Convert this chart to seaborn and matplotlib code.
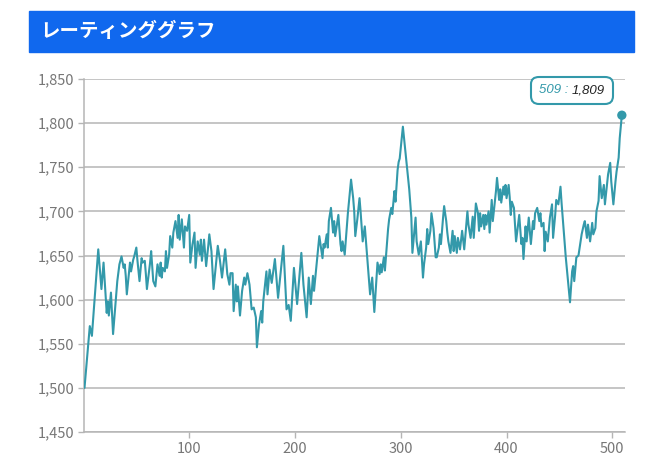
import matplotlib
matplotlib.use("Agg")
import matplotlib.pyplot as plt
import seaborn as sns
from matplotlib.patches import Rectangle
from matplotlib.ticker import FuncFormatter
from matplotlib.offsetbox import AnnotationBbox, HPacker, TextArea

# rating after each game (vertices)
games = [
    1, 6, 8, 14, 17, 19, 22, 23, 24, 26, 28, 32, 34, 36, 38, 39, 40, 41, 44, 45,
    47, 48, 50, 51, 53, 55, 56, 58, 59, 60, 63, 64, 65, 66, 68, 70, 72, 73, 74, 75,
    77, 78, 79, 81, 82, 84, 85, 87, 89, 90, 91, 93, 95, 96, 98, 100, 101, 103, 105, 106,
    108, 110, 111, 112, 114, 116, 118, 119, 121, 123, 125, 127, 129, 131, 134, 136, 138, 139, 141, 142,
    144, 145, 146, 148, 150, 152, 153, 155, 157, 159, 161, 163, 164, 166, 168, 169, 170, 173, 174, 176,
    178, 181, 184, 189, 192, 194, 196, 199, 202, 206, 208, 211, 213, 215, 217, 218, 221, 223, 226, 227,
    228, 230, 231, 232, 234, 236, 237, 238, 241, 243, 244, 245, 247, 250, 253, 255, 256, 257, 259, 261,
    262, 263, 264, 266, 271, 273, 275, 278, 280, 281, 282, 284, 285, 288, 289, 291, 292, 294, 295, 297,
    298, 299, 302, 305, 308, 310, 311, 314, 315, 317, 319, 321, 322, 324, 325, 326, 328, 329, 331, 333,
    334, 336, 337, 338, 340, 341, 343, 344, 345, 347, 349, 350, 351, 353, 354, 356, 358, 360, 363, 364,
    366, 368, 369, 371, 373, 374, 375, 376, 378, 379, 380, 381, 383, 384, 386, 387, 388, 390, 391, 393,
    394, 395, 397, 398, 399, 400, 402, 403, 404, 405, 407, 409, 412, 414, 415, 416, 418, 419, 421, 423,
    425, 426, 427, 429, 431, 432, 433, 435, 436, 437, 439, 441, 443, 444, 446, 447, 449, 451, 452, 456,
    460, 462, 463, 464, 466, 468, 470, 471, 473, 474, 476, 477, 479, 481, 482, 484, 485, 487, 488, 490,
    492, 493, 495, 496, 498, 499, 501, 503, 504, 506, 507, 509,
]
rating = [
    1500, 1570, 1559, 1657, 1612, 1642, 1585, 1598, 1582, 1608, 1561, 1621, 1640, 1649, 1636, 1640, 1627, 1606, 1642, 1632,
    1645, 1649, 1659, 1645, 1621, 1647, 1642, 1644, 1629, 1612, 1642, 1655, 1638, 1621, 1615, 1640, 1627, 1642, 1625, 1636,
    1632, 1655, 1636, 1651, 1672, 1659, 1676, 1689, 1670, 1696, 1668, 1691, 1659, 1683, 1678, 1696, 1642, 1662, 1676, 1636,
    1666, 1651, 1668, 1644, 1668, 1638, 1661, 1674, 1655, 1612, 1636, 1661, 1645, 1625, 1657, 1629, 1617, 1630, 1630, 1587,
    1617, 1598, 1615, 1582, 1610, 1625, 1617, 1630, 1617, 1589, 1591, 1580, 1546, 1572, 1587, 1574, 1598, 1632, 1606, 1634,
    1619, 1646, 1602, 1661, 1589, 1594, 1576, 1636, 1595, 1653, 1617, 1580, 1625, 1595, 1627, 1610, 1647, 1672, 1647, 1663,
    1659, 1674, 1659, 1689, 1704, 1676, 1689, 1672, 1696, 1663, 1655, 1666, 1651, 1698, 1736, 1715, 1700, 1672, 1692, 1715,
    1700, 1683, 1666, 1683, 1606, 1625, 1586, 1642, 1629, 1640, 1631, 1648, 1633, 1680, 1691, 1704, 1697, 1723, 1711, 1747,
    1756, 1760, 1796, 1760, 1725, 1693, 1653, 1693, 1666, 1651, 1666, 1625, 1640, 1659, 1680, 1663, 1678, 1698, 1681, 1648,
    1648, 1659, 1674, 1663, 1693, 1706, 1689, 1676, 1666, 1653, 1678, 1655, 1672, 1653, 1670, 1657, 1678, 1657, 1700, 1685,
    1670, 1694, 1670, 1709, 1698, 1678, 1698, 1683, 1696, 1680, 1696, 1685, 1700, 1676, 1713, 1689, 1700, 1723, 1738, 1713,
    1725, 1710, 1728, 1719, 1730, 1715, 1730, 1716, 1696, 1711, 1704, 1666, 1696, 1663, 1670, 1646, 1683, 1666, 1693, 1663,
    1689, 1680, 1698, 1704, 1689, 1698, 1683, 1687, 1655, 1677, 1666, 1693, 1708, 1670, 1696, 1713, 1708, 1728, 1710, 1648,
    1597, 1632, 1638, 1621, 1648, 1650, 1666, 1674, 1685, 1689, 1670, 1685, 1666, 1687, 1674, 1681, 1700, 1712, 1740, 1715,
    1730, 1708, 1730, 1742, 1755, 1734, 1708, 1734, 1745, 1761, 1783, 1809,
]

title = "レーティンググラフ"
y_ticks = [1450, 1500, 1550, 1600, 1650, 1700, 1750, 1800, 1850]
x_ticks = [100, 200, 300, 400, 500]

teal = "#3399aa"
grey = "#b5b5b5"

sns.set_style("white")
plt.rcParams["font.family"] = ["Noto Sans CJK JP", "DejaVu Sans"]

fig = plt.figure(figsize=(6.52, 4.55), dpi=100)
ax = fig.add_axes([0.1288, 0.0505, 0.8298, 0.7758])

sns.lineplot(x=games, y=rating, ax=ax, color=teal, linewidth=1.5, estimator=None, zorder=3)
sns.scatterplot(x=[games[-1]], y=[rating[-1]], ax=ax, color=teal, s=45,
                edgecolor="none", zorder=5, clip_on=False)

ax.set_xlim(0.5, 512)
ax.set_ylim(1450, 1850)
ax.set_xticks(x_ticks)
ax.set_yticks(y_ticks)
ax.yaxis.set_major_formatter(FuncFormatter(lambda v, p: f"{int(v):,}"))
ax.set_xlabel("")
ax.set_ylabel("")

ax.grid(axis="y", color=grey, linewidth=1.1)
ax.grid(axis="x", visible=False)
for side in ["top", "right"]:
    ax.spines[side].set_visible(False)
for side in ["left", "bottom"]:
    ax.spines[side].set_color(grey)
    ax.spines[side].set_linewidth(1.1)
ax.tick_params(axis="both", bottom=True, left=True, colors=grey, labelcolor="#777777",
               length=4, width=1, labelsize=10.5, pad=3)

# tooltip for the last game
tip_font = dict(fontsize=9.5, family="Liberation Sans", style="italic")
tip = HPacker(children=[TextArea(f"{games[-1]} : ", textprops=dict(color=teal, **tip_font)),
                        TextArea(f"{rating[-1]:,}", textprops=dict(color="#222222", **tip_font))],
              pad=0, sep=0)
ab = AnnotationBbox(tip, (games[-1], rating[-1]), xybox=(-36, 18), xycoords="data",
                    boxcoords="offset points", frameon=True, annotation_clip=False,
                    bboxprops=dict(boxstyle="round,pad=0.55", fc="white", ec=teal, lw=1.5))
ab.set_zorder(6)
ax.add_artist(ab)

# title banner
fig.patches.append(Rectangle((29 / 652, 1 - 52 / 455), 605 / 652, 41 / 455,
                             transform=fig.transFigure, color="#1068ee", zorder=0))
fig.text(40 / 652, 1 - 31.5 / 455, title, color="white", fontsize=14,
         fontweight="bold", va="center", ha="left")

fig.savefig("out.png", dpi=100)
